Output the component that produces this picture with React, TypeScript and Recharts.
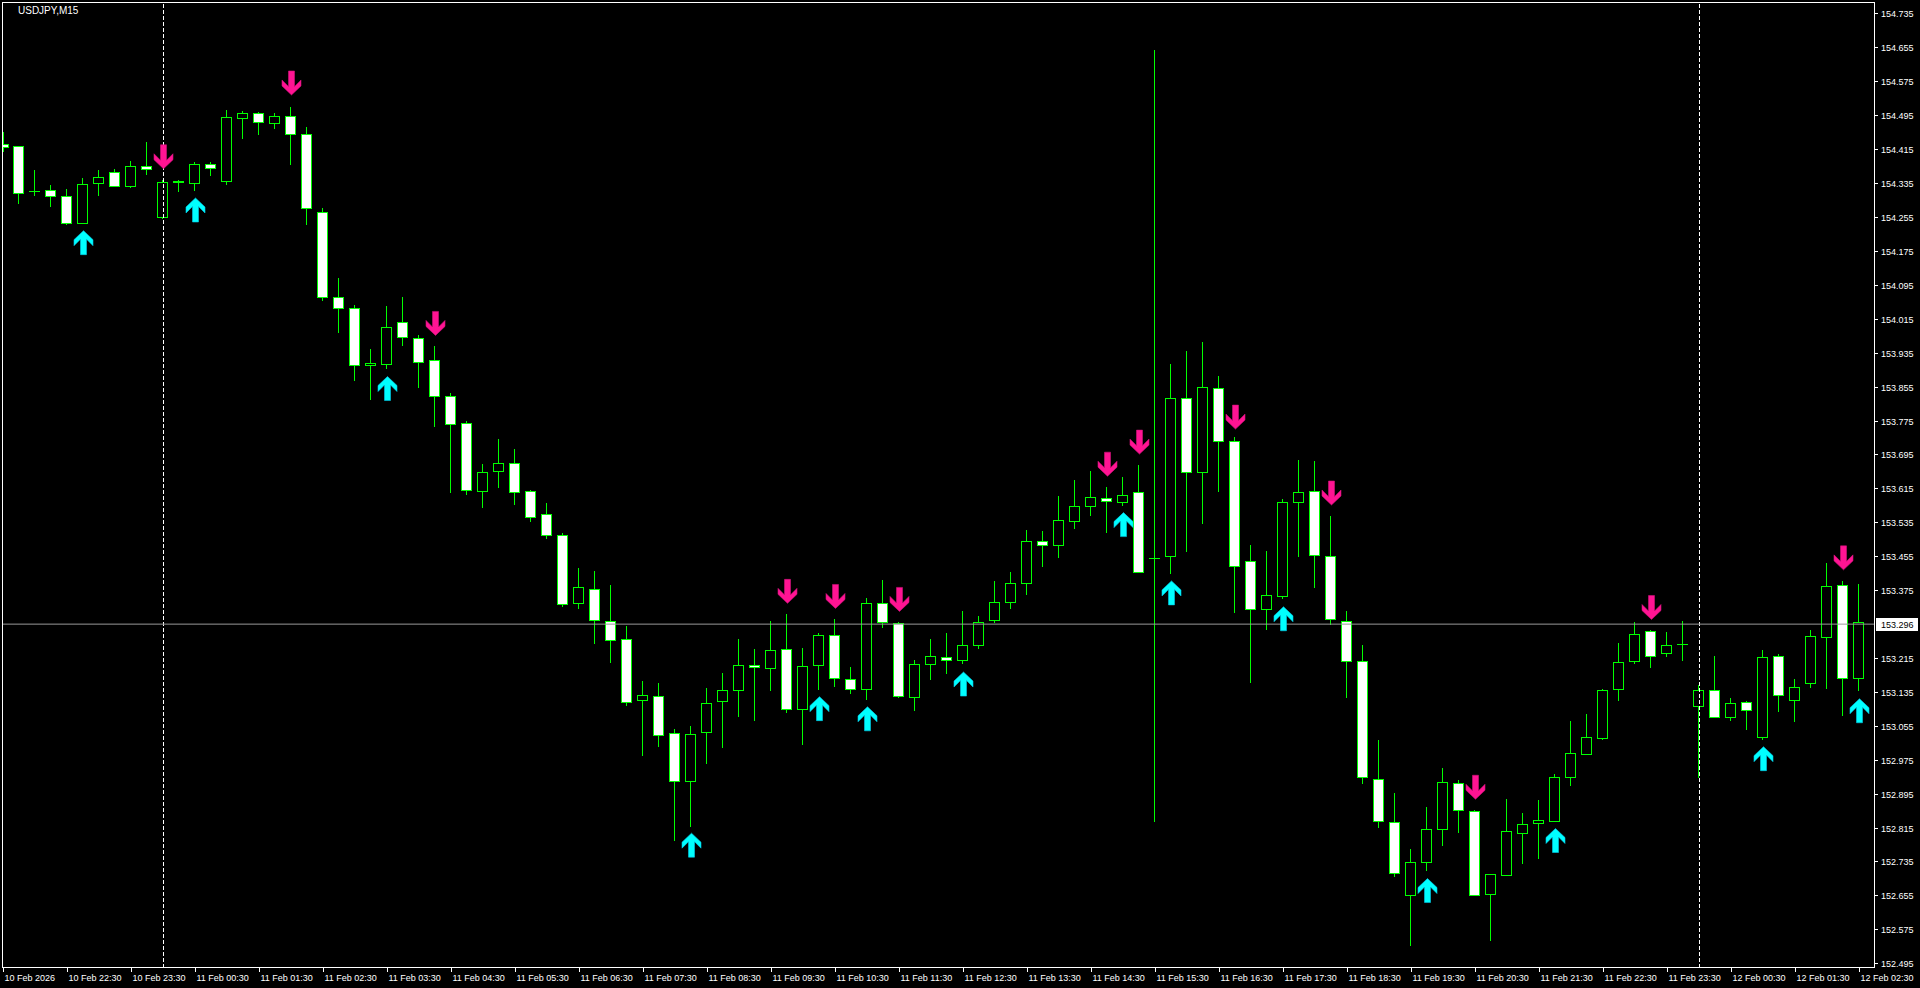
import React from 'react';
import { ComposedChart, Bar, Scatter, XAxis, YAxis, ReferenceLine } from 'recharts';

const symbolTitle = 'USDJPY,M15';

const opens = [
  154.428, 154.424, 154.318, 154.319, 154.305, 154.243, 154.337, 154.363, 154.329, 154.376,
  154.256, 154.340, 154.337, 154.381, 154.340, 154.489, 154.501, 154.477, 154.494, 154.453,
  154.269, 154.067, 154.041, 153.906, 153.910, 154.008, 153.970, 153.918, 153.833, 153.770,
  153.611, 153.657, 153.675, 153.609, 153.555, 153.506, 153.347, 153.378, 153.303, 153.260,
  153.117, 153.126, 153.039, 152.925, 153.041, 153.114, 153.140, 153.200, 153.192, 153.237,
  153.095, 153.199, 153.270, 153.166, 153.142, 153.345, 153.298, 153.123, 153.203, 153.219,
  153.211, 153.247, 153.305, 153.348, 153.392, 153.491, 153.482, 153.540, 153.574, 153.594,
  153.585, 153.607, 153.451, 153.457, 153.829, 153.654, 153.853, 153.728, 153.444, 153.332,
  153.363, 153.583, 153.609, 153.456, 153.303, 153.208, 152.930, 152.829, 152.656, 152.734,
  152.812, 152.921, 152.855, 152.659, 152.705, 152.804, 152.826, 152.832, 152.936, 152.990,
  153.028, 153.142, 153.208, 153.279, 153.227, 153.248, 153.102, 153.140, 153.076, 153.112,
  153.029, 153.220, 153.116, 153.156, 153.265, 153.388, 153.168,
];
const highs = [
  154.456, 154.424, 154.367, 154.332, 154.322, 154.348, 154.367, 154.369, 154.388, 154.432,
  154.344, 154.344, 154.385, 154.385, 154.509, 154.506, 154.504, 154.502, 154.516, 154.468,
  154.277, 154.112, 154.049, 153.945, 154.046, 154.068, 153.977, 153.952, 153.841, 153.775,
  153.674, 153.733, 153.709, 153.612, 153.582, 153.510, 153.428, 153.421, 153.388, 153.292,
  153.162, 153.157, 153.049, 153.056, 153.145, 153.181, 153.261, 153.237, 153.303, 153.320,
  153.240, 153.275, 153.308, 153.195, 153.358, 153.400, 153.302, 153.211, 153.261, 153.275,
  153.327, 153.315, 153.398, 153.419, 153.518, 153.516, 153.598, 153.636, 153.657, 153.619,
  153.643, 153.671, 154.650, 153.910, 153.940, 153.962, 153.881, 153.737, 153.483, 153.468,
  153.591, 153.683, 153.681, 153.551, 153.327, 153.247, 153.023, 152.898, 152.766, 152.865,
  152.957, 152.928, 152.858, 152.706, 152.884, 152.850, 152.881, 152.943, 153.068, 153.084,
  153.143, 153.251, 153.301, 153.282, 153.277, 153.303, 153.152, 153.221, 153.121, 153.114,
  153.234, 153.225, 153.166, 153.281, 153.440, 153.397, 153.390,
];
const lows = [
  154.413, 154.290, 154.309, 154.283, 154.240, 154.241, 154.309, 154.329, 154.328, 154.358,
  154.254, 154.318, 154.320, 154.355, 154.335, 154.443, 154.453, 154.467, 154.382, 154.240,
  154.061, 153.986, 153.872, 153.828, 153.901, 153.954, 153.855, 153.763, 153.608, 153.604,
  153.573, 153.620, 153.580, 153.540, 153.500, 153.339, 153.334, 153.251, 153.207, 153.105,
  152.988, 153.009, 152.788, 152.821, 152.969, 153.007, 153.080, 153.071, 153.141, 153.089,
  153.014, 153.144, 153.150, 153.134, 153.120, 153.290, 153.125, 153.094, 153.166, 153.181,
  153.204, 153.240, 153.302, 153.335, 153.368, 153.432, 153.455, 153.523, 153.554, 153.514,
  153.577, 153.418, 152.832, 153.417, 153.469, 153.535, 153.611, 153.325, 153.160, 153.284,
  153.358, 153.457, 153.384, 153.297, 153.125, 152.922, 152.818, 152.703, 152.540, 152.715,
  152.775, 152.806, 152.656, 152.551, 152.705, 152.733, 152.745, 152.832, 152.917, 152.990,
  153.025, 153.118, 153.205, 153.196, 153.222, 153.212, 152.936, 153.076, 153.071, 153.049,
  153.026, 153.092, 153.068, 153.148, 153.146, 153.082, 153.140,
];
const closes = [
  154.421, 154.314, 154.317, 154.306, 154.243, 154.333, 154.350, 154.329, 154.376, 154.369,
  154.338, 154.339, 154.381, 154.371, 154.491, 154.501, 154.480, 154.494, 154.451, 154.277,
  154.067, 154.041, 153.906, 153.911, 153.996, 153.973, 153.915, 153.835, 153.769, 153.612,
  153.654, 153.675, 153.608, 153.549, 153.507, 153.344, 153.383, 153.305, 153.259, 153.113,
  153.129, 153.034, 152.925, 153.036, 153.109, 153.140, 153.199, 153.195, 153.234, 153.095,
  153.197, 153.270, 153.168, 153.142, 153.345, 153.300, 153.127, 153.201, 153.220, 153.211,
  153.246, 153.300, 153.348, 153.392, 153.491, 153.482, 153.541, 153.574, 153.595, 153.586,
  153.600, 153.418, 153.451, 153.829, 153.654, 153.855, 153.728, 153.432, 153.332, 153.364,
  153.583, 153.607, 153.458, 153.307, 153.208, 152.935, 152.831, 152.708, 152.734, 152.812,
  152.923, 152.857, 152.656, 152.706, 152.808, 152.824, 152.833, 152.935, 152.991, 153.029,
  153.140, 153.206, 153.272, 153.220, 153.246, 153.248, 153.140, 153.076, 153.109, 153.093,
  153.218, 153.128, 153.147, 153.267, 153.385, 153.168, 153.300,
];

const timeLabels = [
  '10 Feb 2026', '10 Feb 22:30', '10 Feb 23:30', '11 Feb 00:30', '11 Feb 01:30', '11 Feb 02:30',
  '11 Feb 03:30', '11 Feb 04:30', '11 Feb 05:30', '11 Feb 06:30', '11 Feb 07:30', '11 Feb 08:30',
  '11 Feb 09:30', '11 Feb 10:30', '11 Feb 11:30', '11 Feb 12:30', '11 Feb 13:30', '11 Feb 14:30',
  '11 Feb 15:30', '11 Feb 16:30', '11 Feb 17:30', '11 Feb 18:30', '11 Feb 19:30', '11 Feb 20:30',
  '11 Feb 21:30', '11 Feb 22:30', '11 Feb 23:30', '12 Feb 00:30', '12 Feb 01:30', '12 Feb 02:30',
];
const barsPerLabel = 4;

const priceTicks = [
  152.495, 152.575, 152.655, 152.735, 152.815, 152.895, 152.975, 153.055, 153.135, 153.215,
  153.375, 153.455, 153.535, 153.615, 153.695, 153.775, 153.855, 153.935, 154.015, 154.095,
  154.175, 154.255, 154.335, 154.415, 154.495, 154.575, 154.655, 154.735,
];

const upArrowBars = [5, 12, 24, 43, 51, 54, 60, 70, 73, 80, 89, 97, 110, 116];
const upArrowPrices = [
  154.224, 154.301, 153.880, 152.803, 153.125, 153.101, 153.183, 153.559, 153.398, 153.337,
  152.696, 152.814, 153.007, 153.120,
];
const downArrowBars = [10, 18, 27, 49, 52, 56, 69, 71, 77, 83, 92, 103, 115];
const downArrowPrices = [
  154.370, 154.544, 153.977, 153.345, 153.333, 153.326, 153.645, 153.697, 153.756, 153.577,
  152.883, 153.307, 153.424,
];

const bidPrice = 153.296;
const dayBreakBars = [10, 106];
const priceDomain = [152.485, 154.7633];
const barDomain = [-0.09375, 116.9375];

const candles = opens.map((o, i) => ({
  i,
  o,
  h: highs[i],
  l: lows[i],
  c: closes[i],
  range: [lows[i], highs[i]],
}));
const upArrows = upArrowBars.map((b, k) => ({ i: b, p: upArrowPrices[k] }));
const downArrows = downArrowBars.map((b, k) => ({ i: b, p: downArrowPrices[k] }));
const timeTickIdx = timeLabels.map((_, k) => k * barsPerLabel);

const GREEN = '#00FF00';
const FONT = '"Liberation Sans", Arial, sans-serif';

const CandleShape = (props: any) => {
  const { x, y, width, height, payload } = props;
  if (payload == null || x == null || y == null) return null;
  const top = Math.min(y, y + height);
  const h = Math.abs(height);
  const cx = Math.floor(x + width / 2) + 0.5;
  const span = payload.h - payload.l;
  const k = span > 0 ? h / span : 0;
  const py = (p: number) => top + (payload.h - p) * k;
  const yo = py(payload.o);
  const yc = py(payload.c);
  const bTop = Math.round(Math.min(yo, yc)) + 0.5;
  const bBot = Math.round(Math.max(yo, yc)) + 0.5;
  const bull = payload.c > payload.o;
  return (
    <g shapeRendering="crispEdges">
      <line x1={cx} x2={cx} y1={Math.round(top)} y2={Math.round(top + h) + 1} stroke={GREEN} strokeWidth={1} />
      {bBot - bTop < 1 ? (
        <line x1={cx - 5.5} x2={cx + 5.5} y1={bTop} y2={bTop} stroke={GREEN} strokeWidth={1} />
      ) : (
        <rect x={cx - 5} y={bTop} width={10} height={bBot - bTop} fill={bull ? '#000000' : '#FFFFFF'} stroke={GREEN} strokeWidth={1} />
      )}
    </g>
  );
};

const UpArrow = (props: any) => {
  const { cx, cy } = props;
  if (cx == null || cy == null) return null;
  const x = Math.floor(cx) + 0.5;
  const y = cy;
  const pts = [
    [0, 0], [9.5, 9], [9.5, 15], [3, 8.5], [3, 24], [-3, 24], [-3, 8.5], [-9.5, 15], [-9.5, 9],
  ].map(([dx, dy]) => `${x + dx},${y + dy}`).join(' ');
  return <polygon points={pts} fill="#00FFFF" stroke="#00C8E8" strokeWidth={0.6} />;
};

const DownArrow = (props: any) => {
  const { cx, cy } = props;
  if (cx == null || cy == null) return null;
  const x = Math.floor(cx) + 0.5;
  const y = cy;
  const pts = [
    [0, 0], [9.5, -9], [9.5, -15], [3, -8.5], [3, -24], [-3, -24], [-3, -8.5], [-9.5, -15], [-9.5, -9],
  ].map(([dx, dy]) => `${x + dx},${y + dy}`).join(' ');
  return <polygon points={pts} fill="#FF1493" stroke="#D0107A" strokeWidth={0.6} />;
};

const TimeTick = (props: any) => {
  const { x, payload } = props;
  const idx = timeTickIdx.indexOf(payload.value);
  const label = idx >= 0 ? timeLabels[idx] : '';
  const tx = Math.floor(x) + 0.5;
  return (
    <g>
      <line x1={tx} x2={tx} y1={968} y2={972} stroke="#FFFFFF" strokeWidth={1} shapeRendering="crispEdges" />
      <text x={tx + 1} y={980.5} fill="#FFFFFF" fontSize={9} fontFamily={FONT} textAnchor="start">
        {label}
      </text>
    </g>
  );
};

const PriceTick = (props: any) => {
  const { y, payload } = props;
  const ty = Math.floor(y) + 0.5;
  return (
    <g>
      <line x1={1874} x2={1878} y1={ty} y2={ty} stroke="#FFFFFF" strokeWidth={1} shapeRendering="crispEdges" />
      <text x={1881} y={ty + 3.3} fill="#FFFFFF" fontSize={9} fontFamily={FONT} textAnchor="start">
        {Number(payload.value).toFixed(3)}
      </text>
    </g>
  );
};

const BidLabel = (props: any) => {
  const { viewBox } = props;
  if (!viewBox) return null;
  const ly = Math.floor(viewBox.y) + 0.5;
  return (
    <g>
      <rect x={1876} y={ly - 6.5} width={42} height={13} fill="#FFFFFF" />
      <text x={1881} y={ly + 3.3} fill="#000000" fontSize={9} fontFamily={FONT} textAnchor="start">
        {bidPrice.toFixed(3)}
      </text>
    </g>
  );
};

export default function App() {
  return (
    <div style={{ position: 'absolute', left: 0, top: 0, width: 1920, height: 988, background: '#000000', overflow: 'hidden' }}>
      <ComposedChart
        width={1920}
        height={988}
        data={candles}
        margin={{ top: 2, right: 0, left: 2, bottom: 0 }}
      >
        <XAxis
          dataKey="i"
          type="number"
          domain={barDomain}
          allowDataOverflow
          ticks={timeTickIdx}
          interval={0}
          height={20}
          axisLine={false}
          tickLine={false}
          tick={<TimeTick />}
        />
        <YAxis
          orientation="right"
          type="number"
          domain={priceDomain}
          allowDataOverflow
          ticks={priceTicks}
          interval={0}
          width={46}
          axisLine={false}
          tickLine={false}
          tick={<PriceTick />}
        />
        {dayBreakBars.map((b) => (
          <ReferenceLine key={b} x={b} stroke="#FFFFFF" strokeDasharray="4 2" strokeWidth={1} shapeRendering="crispEdges" />
        ))}
        <ReferenceLine y={bidPrice} stroke="#9A9A9A" strokeWidth={1} label={<BidLabel />} />
        <Bar dataKey="range" barSize={11} shape={<CandleShape />} isAnimationActive={false} />
        <Scatter data={upArrows} dataKey="p" shape={<UpArrow />} isAnimationActive={false} />
        <Scatter data={downArrows} dataKey="p" shape={<DownArrow />} isAnimationActive={false} />
      </ComposedChart>
      <div
        style={{
          position: 'absolute',
          left: 2,
          top: 2,
          width: 1873,
          height: 966,
          boxSizing: 'border-box',
          border: '1px solid #FFFFFF',
          pointerEvents: 'none',
        }}
      />
      <div
        style={{
          position: 'absolute',
          left: 18,
          top: 5,
          color: '#FFFFFF',
          fontFamily: FONT,
          fontSize: 10,
          lineHeight: '11px',
          whiteSpace: 'nowrap',
        }}
      >
        {symbolTitle}
      </div>
    </div>
  );
}
